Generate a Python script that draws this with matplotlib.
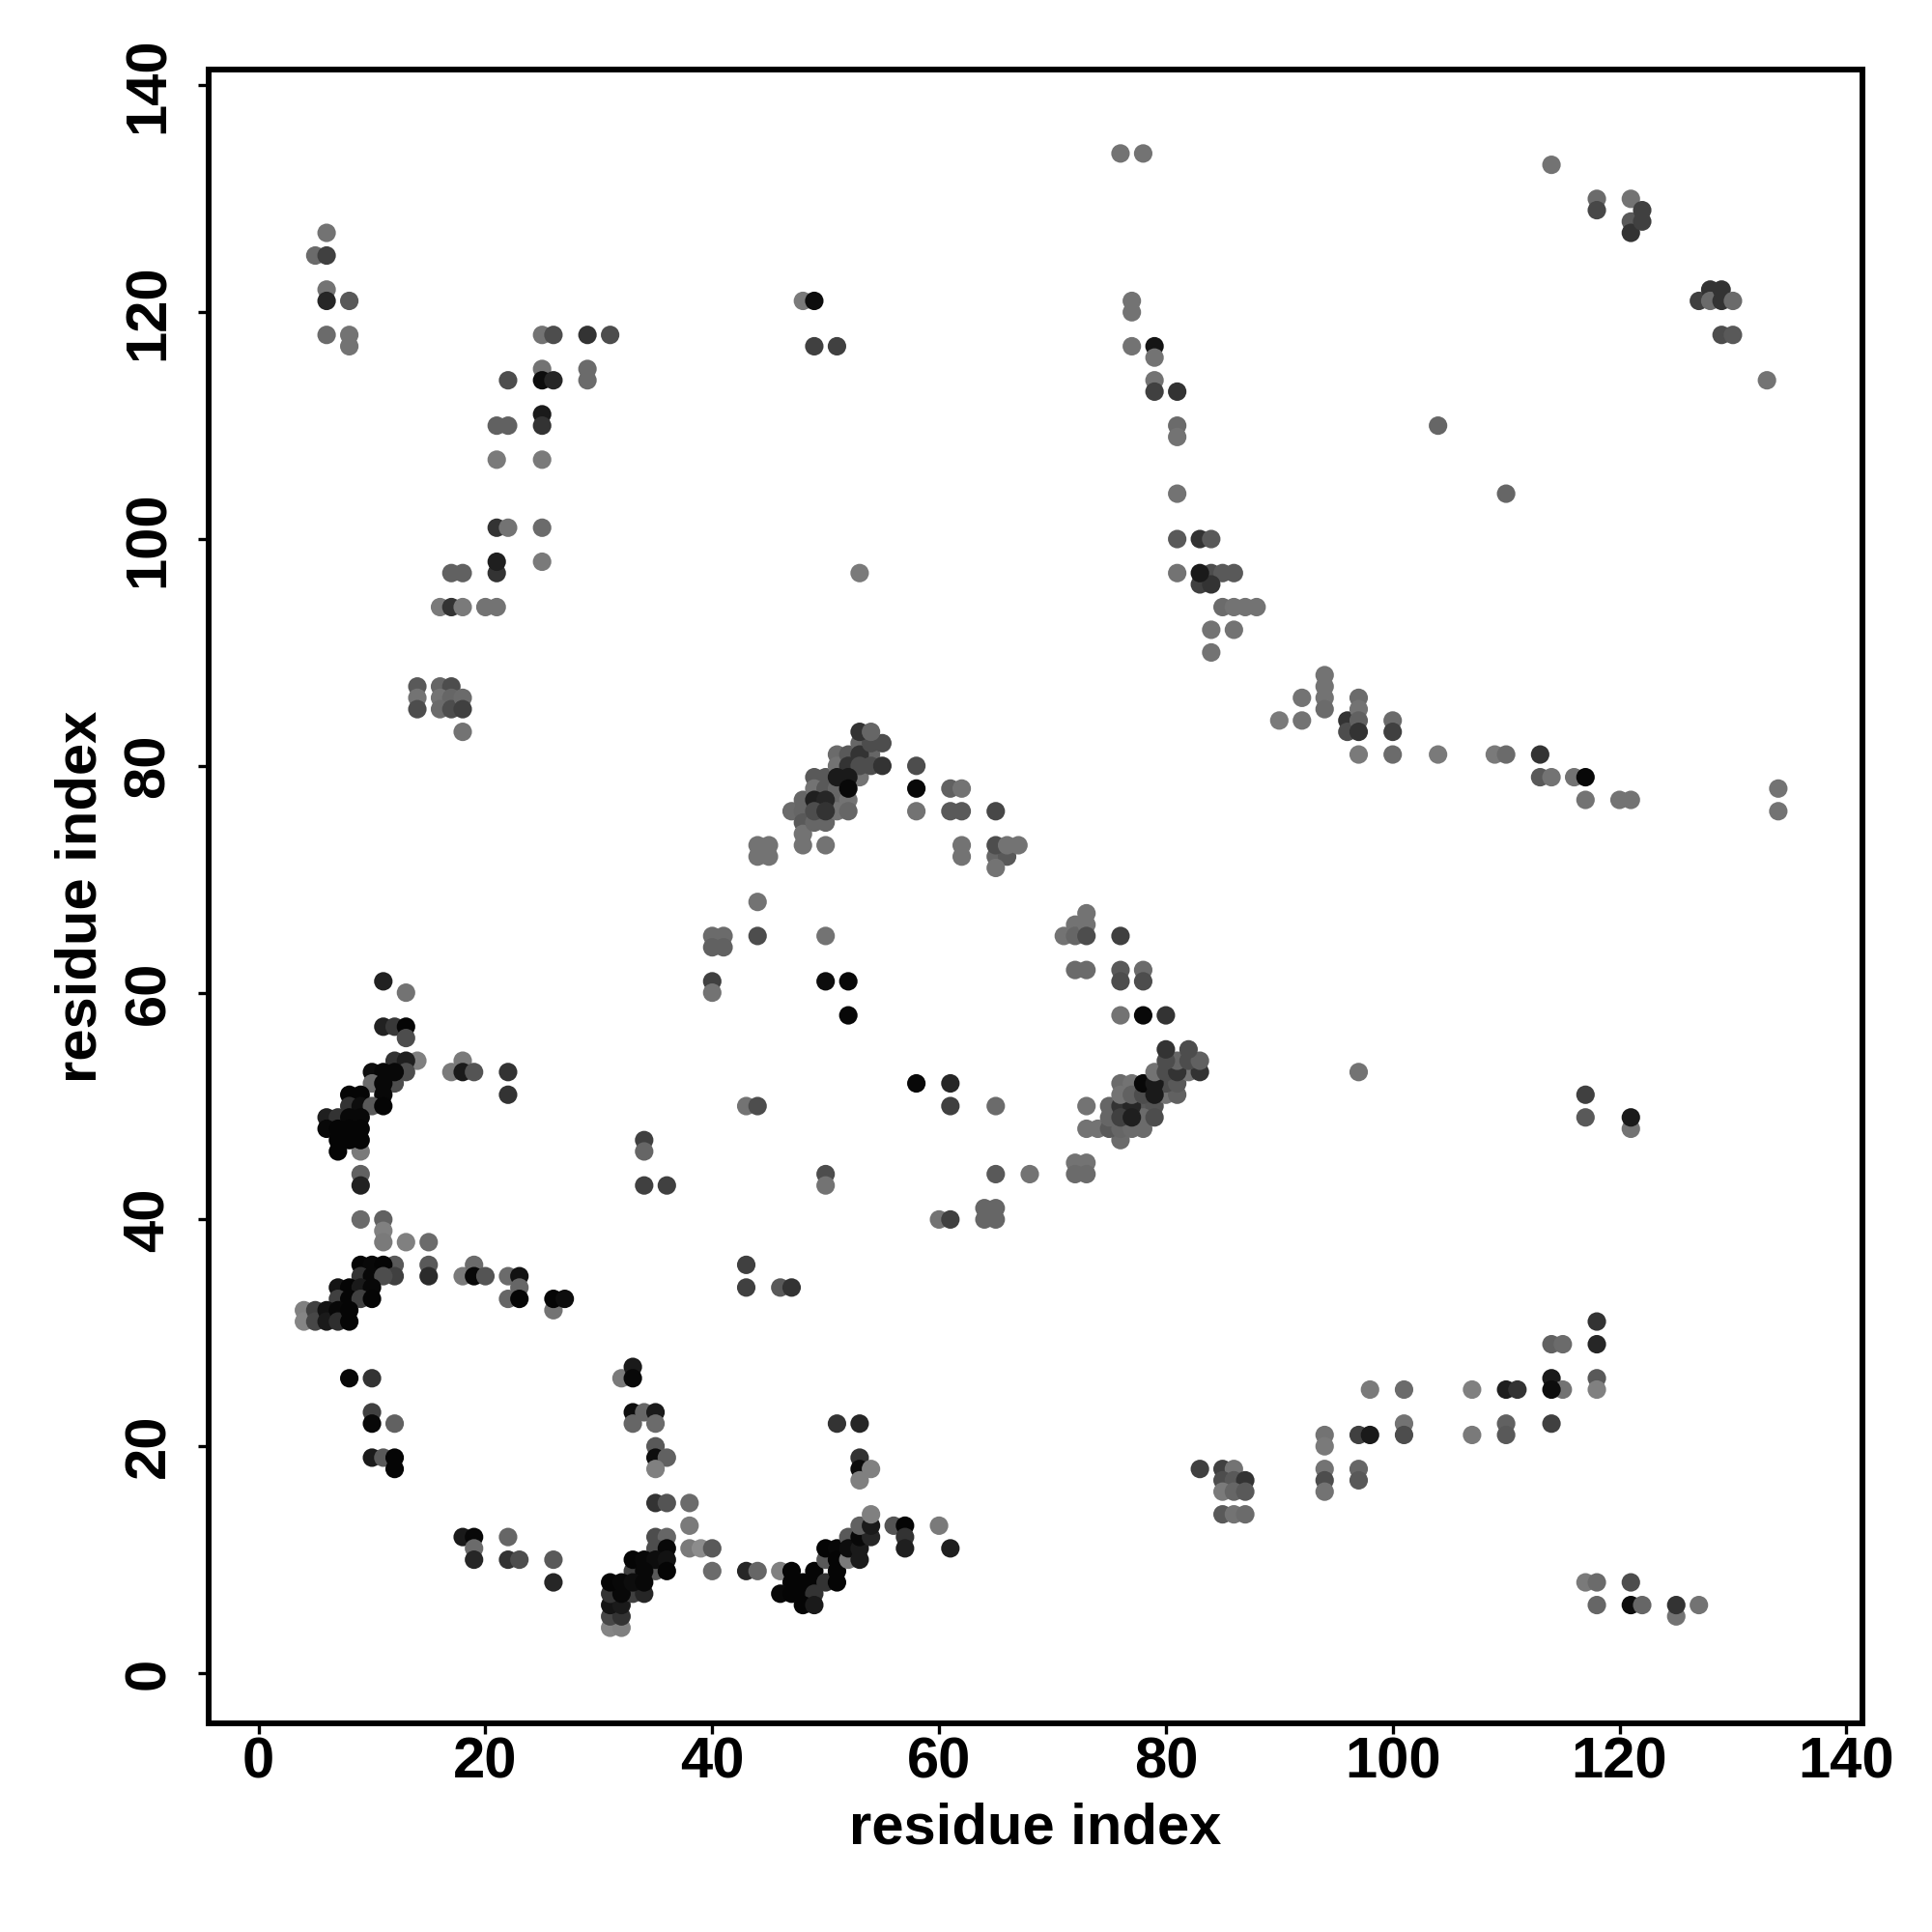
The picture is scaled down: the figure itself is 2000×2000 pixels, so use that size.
import matplotlib
matplotlib.use("Agg")
import matplotlib.pyplot as plt

plt.rcParams['font.family'] = ['Liberation Sans', 'DejaVu Sans']

# (residue i, residue j, grey level)
upper_left = [(5,125,.42),(6,125,.25),(6,127,.45),(6,122,.45),(6,121,.15),(8,121,.35),(6,118,.42),(8,118,.45),(8,117,.45),
 (14,87,.35),(14,86,.45),(14,85,.3),(16,87,.4),(17,87,.3),(16,86,.45),(17,86,.4),(16,85,.42),(17,85,.3),(18,86,.42),(18,85,.25),(18,83,.45),
 (16,94,.48),(17,94,.2),(18,94,.48),(17,97,.38),(18,97,.38),(20,94,.45),(21,94,.45),(21,97,.2),(21,98,.12),(21,101,.2),(22,101,.45),(21,107,.48),
 (21,110,.38),(22,110,.38),(22,114,.3),(25,118,.45),(26,118,.3),(25,115,.45),(25,114,.05),(26,114,.15),(25,111,.1),(25,110,.2),(25,107,.48),(25,101,.42),(25,98,.48),
 (29,118,.2),(31,118,.3),(29,115,.42),(29,114,.42),(48,121,.48),(49,121,.05),(49,117,.25),(51,117,.25)]
upper_mid = [(53,97,.48),(76,134,.45),(78,134,.45),(77,121,.45),(77,120,.45),(77,117,.45),(79,117,.08),(79,116,.45),(79,114,.45),(79,113,.25),(81,113,.2),
 (81,110,.42),(81,109,.45),(81,104,.45),(81,100,.35),(83,100,.2),(84,100,.35),(81,97,.45),(84,97,.3),(85,97,.35),(86,97,.35),(83,96,.25),(84,96,.2),(83,97,.1),
 (85,94,.42),(86,94,.45),(87,94,.45),(88,94,.45),(84,92,.45),(86,92,.45),(84,90,.45),(104,110,.4),(110,104,.4)]
upper_right = [(114,133,.45),(118,130,.42),(118,129,.28),(121,130,.45),(121,128,.35),(121,127,.2),(122,129,.25),(122,128,.25),(127,121,.25),(128,122,.2),(128,121,.42),
 (129,122,.2),(129,121,.2),(130,121,.42),(129,118,.3),(130,118,.35),(133,114,.45),
 (90,84,.48),(92,86,.45),(92,84,.45),(94,88,.45),(94,87,.45),(94,86,.45),(94,85,.42),(96,84,.2),(96,83,.3),(97,86,.42),(97,85,.45),(97,84,.38),(97,83,.2),(97,81,.48),
 (100,84,.42),(100,83,.25),(100,81,.42),(104,81,.48),(109,81,.48),(110,81,.42),(113,81,.2),(113,79,.35),(114,79,.45),(116,79,.45),(117,79,.03),(117,77,.45),(120,77,.45),(121,77,.45),
 (134,78,.45),(134,76,.45)]
central_peak = [(47,76,.42),(48,77,.4),(48,76,.4),(48,75,.35),(48,74,.45),(48,73,.45),(49,79,.35),(50,79,.35),(49,78,.45),(50,78,.35),(51,78,.4),
 (49,75,.4),(50,75,.4),(50,73,.45),(51,77,.4),(52,77,.45),(51,76,.45),(52,76,.4),(49,77,.12),(50,77,.15),(49,76,.3),(50,76,.2),
 (53,79,.45),(51,81,.42),(51,80,.45),(52,81,.35),(53,82,.4),(54,81,.4),(53,81,.2),(52,80,.2),(53,80,.3),(54,80,.3),(54,82,.3),(55,82,.3),(55,80,.2),(53,83,.2),(54,83,.4),
 (51,79,.1),(52,79,.1),(52,78,.03),
 (58,80,.3),(58,78,.03),(58,76,.45),(61,78,.38),(62,78,.45),(61,76,.35),(62,76,.35),(65,76,.28),(44,73,.45),(45,73,.45),(44,72,.45),(45,72,.45),
 (62,73,.45),(62,72,.45),(65,72,.4),(66,72,.35),(65,71,.45),(65,73,.3),(66,73,.45),(67,73,.45),
 (44,68,.45),(40,65,.42),(41,65,.42),(40,64,.38),(41,64,.38),(44,65,.3),(50,65,.45),(40,61,.25),(40,60,.45),(50,61,.05),(52,61,.03),(52,58,.03),
 (71,65,.45),(72,66,.45),(72,65,.4),(73,67,.45),(73,66,.45),(73,65,.3),(72,62,.42),(73,62,.42),(76,65,.25),(76,62,.35),(76,61,.3),(78,62,.42),(78,61,.3),(76,58,.45),(78,58,.03),(80,58,.2)]
right_wing = [(76,47,.42),(72,45,.45),(73,45,.45),(72,44,.42),(73,44,.42),(73,50,.45),(73,48,.45),(74,48,.45),(75,48,.35),(76,48,.4),(77,48,.42),(78,48,.42),
 (75,50,.4),(75,49,.4),(78,50,.35),(79,50,.33),(78,49,.42),(79,49,.3),(76,50,.2),(77,50,.15),(76,49,.25),(77,49,.12),
 (76,52,.42),(77,52,.45),(76,51,.45),(77,51,.38),(78,51,.3),(80,51,.45),(81,51,.38),(80,52,.3),(81,52,.35),(78,52,.03),(79,52,.1),(79,51,.1),
 (79,53,.45),(80,53,.3),(82,53,.45),(81,53,.2),(83,53,.2),(81,54,.4),(80,54,.3),(82,54,.3),(83,54,.38),(80,55,.2),(82,55,.3),
 (58,52,.03),(61,52,.15),(61,50,.25),(65,50,.42),(65,44,.35),(68,44,.45),(60,40,.45),(61,40,.25),(64,41,.4),(65,41,.4),(64,40,.4),(65,40,.4),
 (43,50,.45),(44,50,.3),(50,44,.3),(50,43,.45),(34,47,.25),(34,46,.4),(34,43,.25),(36,43,.25),(43,36,.25),(43,34,.25),(46,34,.35),(47,34,.2),
 (97,53,.45),(117,51,.25),(117,49,.35),(121,48,.45),(121,49,.1)]
left_wing = [(11,61,.13),(13,60,.45),(11,57,.13),(12,57,.22),(13,57,.02),(13,56,.3),(14,54,.5),(12,54,.2),(13,54,.12),(13,53,.3),(10,53,.05),(11,53,.03),(12,52,.3),(12,53,.03),
 (10,52,.42),(11,52,.03),(8,51,.02),(9,51,.02),(11,51,.03),(8,50,.2),(9,50,.05),(10,50,.35),(11,50,.02),(6,49,.12),(7,49,.2),(8,49,.03),(9,49,.03),
 (6,48,.03),(7,48,.02),(8,48,.02),(9,48,.02),(9,46,.48),(7,47,.02),(8,47,.02),(9,47,.02),(7,46,.02),(9,44,.38),(9,43,.13),
 (17,53,.48),(18,54,.48),(18,53,.1),(19,53,.33),(22,53,.2),(22,51,.2),
 (9,40,.42),(11,40,.38),(11,39,.5),(11,38,.48),(13,38,.5),(15,38,.42),(15,36,.35),(15,35,.17),
 (12,36,.35),(9,36,.02),(10,36,.03),(11,36,.02),(12,35,.25),(9,35,.2),(10,35,.03),(11,35,.3),(18,35,.48),(19,36,.42),(19,35,.03),(20,35,.33),(22,35,.42),(23,35,.07),(23,34,.4),(22,33,.4),(23,33,.02),
 (26,32,.45),(26,33,.02),(27,33,.05),(7,34,.08),(8,34,.02),(9,34,.1),(10,34,.03),(7,33,.25),(8,33,.02),(9,33,.25),(10,33,.02),
 (4,32,.5),(4,31,.52),(5,32,.25),(5,31,.28),(6,32,.07),(6,31,.1),(7,32,.03),(7,31,.18),(8,32,.02),(8,31,.02)]
lower_left = [(8,26,.03),(10,26,.2),(10,23,.25),(10,22,.03),(10,19,.1),(11,19,.35),(12,22,.38),(12,19,.02),(12,18,.02),
 (18,12,.1),(19,12,.03),(19,11,.42),(19,10,.15),(22,12,.4),(22,10,.2),(23,10,.3),(26,10,.35),(26,8,.15),
 (32,26,.48),(33,27,.1),(33,26,.03),(33,23,.05),(34,23,.4),(35,23,.1),(33,22,.4),(35,22,.42),(35,20,.35),(35,19,.05),(36,19,.38),(35,18,.5),
 (35,15,.2),(36,15,.33),(38,15,.42),(38,13,.48),(35,12,.3),(36,12,.4),(35,11,.3),(36,11,.03),(38,11,.48),(39,11,.55),(40,11,.35),
 (33,9,.25),(35,9,.35),(33,10,.02),(34,10,.03),(35,10,.05),(36,10,.07),(34,9,.03),(36,9,.02),(40,9,.42),(43,9,.15),(44,9,.4),(46,9,.5),
 (31,4,.52),(32,4,.5),(31,5,.28),(32,5,.2),(31,6,.08),(32,6,.1),(31,7,.2),(33,7,.25),(34,7,.15),(32,7,.03),(31,8,.02),(32,8,.03),(33,8,.05),(34,8,.03)]
lower_mid = [(47,9,.02),(49,9,.02),(47,8,.02),(48,8,.02),(49,8,.02),(50,8,.2),(51,8,.02),(46,7,.03),(47,7,.02),(48,7,.02),(49,7,.2),(48,6,.02),(49,6,.1),
 (50,10,.35),(50,11,.02),(51,11,.03),(51,10,.02),(51,9,.02),(52,10,.48),(52,12,.35),(52,11,.05),(53,10,.1),(53,11,.1),(53,12,.03),(54,12,.15),(53,13,.38),(54,13,.1),(54,14,.5),
 (56,13,.33),(57,13,.02),(57,12,.2),(57,11,.12),(60,13,.48),(61,11,.12),(51,22,.2),(53,22,.15),(53,19,.2),(53,18,.05),(54,18,.5),(53,17,.5)]
lower_right = [(83,18,.25),(85,18,.25),(86,18,.45),(85,17,.3),(86,17,.35),(87,17,.2),(85,16,.48),(86,16,.4),(87,16,.35),(85,14,.35),(86,14,.45),(87,14,.42),
 (94,21,.45),(94,20,.48),(94,18,.45),(94,17,.3),(94,16,.45),(97,21,.25),(98,21,.1),(97,18,.4),(97,17,.35),(98,25,.48),(101,25,.42),(101,22,.45),(101,21,.3),
 (107,25,.5),(107,21,.48),(110,25,.12),(111,25,.2),(110,22,.38),(110,21,.35),(114,29,.38),(115,29,.42),(114,26,.1),(115,25,.45),(114,25,.05),(114,22,.25),
 (118,31,.2),(118,29,.15),(118,26,.35),(118,25,.5),(117,8,.48),(118,8,.42),(118,6,.4),(121,8,.3),(121,6,.05),(122,6,.4),(125,5,.45),(125,6,.2),(127,6,.45)]
tick_values = [0, 20, 40, 60, 80, 100, 120, 140]
axis_label = "residue index"

contacts = upper_left + upper_mid + upper_right + central_peak + right_wing + left_wing + lower_left + lower_mid + lower_right

fig = plt.figure(figsize=(20, 20), dpi=100)
ax = fig.add_axes([216/2000, 1 - 1784/2000, (1928-216)/2000, (1784-72)/2000])
ax.scatter([c[0] for c in contacts], [c[1] for c in contacts],
           c=[str(c[2]) for c in contacts], s=190, linewidths=0, zorder=3)

ax.set_xlim(-4.40, 141.42)
ax.set_ylim(-4.43, 141.4)
ax.set_xticks(tick_values)
ax.set_yticks(tick_values)
ax.tick_params(axis='x', length=8, width=2.4, labelsize=43, pad=2)
ax.tick_params(axis='y', length=8, width=2.4, labelsize=43, pad=16.5)
for lab in ax.get_xticklabels():
    lab.set_fontweight('bold')
for lab in ax.get_yticklabels():
    lab.set_fontweight('bold')
    lab.set_rotation(90)
    lab.set_va('center')
ax.set_xlabel(axis_label, fontsize=43, fontweight='bold', labelpad=9)
ax.set_ylabel(axis_label, fontsize=43, fontweight='bold', labelpad=11)
for s in ax.spines.values():
    s.set_linewidth(4.3)
fig.savefig("out.png", dpi=100, facecolor='white')
